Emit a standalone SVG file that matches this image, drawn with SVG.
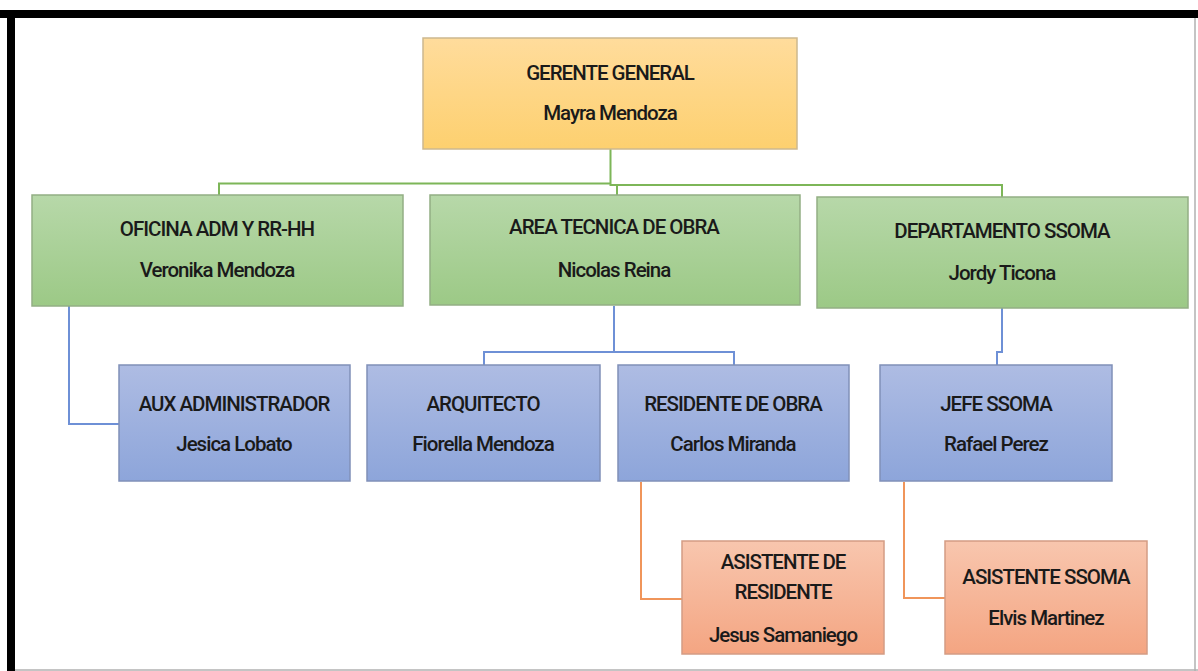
<svg xmlns="http://www.w3.org/2000/svg" width="1198" height="671" viewBox="0 0 1198 671">
<defs>
<linearGradient id="gy" x1="0" y1="0" x2="0" y2="1"><stop offset="0" stop-color="#FFDC9C"/><stop offset="1" stop-color="#FDD06F"/></linearGradient>
<linearGradient id="gg" x1="0" y1="0" x2="0" y2="1"><stop offset="0" stop-color="#B7D8A9"/><stop offset="1" stop-color="#9CC986"/></linearGradient>
<linearGradient id="gb" x1="0" y1="0" x2="0" y2="1"><stop offset="0" stop-color="#AEBCE3"/><stop offset="1" stop-color="#8DA5DA"/></linearGradient>
<linearGradient id="go" x1="0" y1="0" x2="0" y2="1"><stop offset="0" stop-color="#F8C6AE"/><stop offset="1" stop-color="#F4A582"/></linearGradient>
</defs>
<style>
.t{font-family:Roboto,"Open Sans","Liberation Sans",sans-serif;font-weight:500;font-size:20.5px;fill:#1a1a1a;text-anchor:middle;letter-spacing:-1px}
.y{fill:url(#gy);stroke:#CDB88E;stroke-width:1.5}
.g{fill:url(#gg);stroke:#93AE84;stroke-width:1.5}
.b{fill:url(#gb);stroke:#8090B8;stroke-width:1.5}
.o{fill:url(#go);stroke:#D49C84;stroke-width:1.5}
.cg{fill:none;stroke:#7DB658;stroke-width:2}
.cb{fill:none;stroke:#6E90D6;stroke-width:2}
.co{fill:none;stroke:#F0955A;stroke-width:2}
</style>
<rect width="1198" height="671" fill="#fff"/>
<g id="frame">
<rect x="0" y="10" width="1198" height="8" fill="#000"/>
<rect x="7" y="10" width="8" height="661" fill="#000"/>
<line x1="1195" y1="18" x2="1195" y2="671" stroke="#b0b0b0" stroke-width="1.5"/>
<line x1="15" y1="670" x2="1198" y2="670" stroke="#b0b0b0" stroke-width="1.5"/>
</g>
<g id="connectors">
<path class="cg" d="M610.5 149 V183.5 M219 195 V183.5 H610.5 M610.5 183.5 V185 H617 V195 M617 185 H1002 V197"/>
<path class="cb" d="M69 306 V424 H119"/>
<path class="cb" d="M614 306 V352 M484 365 V352 H734 V365"/>
<path class="cb" d="M1002 308 V352 H997 V365"/>
<path class="co" d="M641 482 V599 H682"/>
<path class="co" d="M904 482 V598 H945"/>
</g>
<g id="gerente"><rect class="y" x="423" y="38" width="374" height="111"/><text class="t" x="610" y="80">GERENTE GENERAL</text><text class="t" x="610" y="120">Mayra Mendoza</text></g>
<g id="oficina"><rect class="g" x="32" y="195" width="371" height="111"/><text class="t" x="217" y="236">OFICINA ADM Y RR-HH</text><text class="t" x="217" y="277">Veronika Mendoza</text></g>
<g id="area"><rect class="g" x="430" y="195" width="370" height="110"/><text class="t" x="614" y="234">AREA TECNICA DE OBRA</text><text class="t" x="614" y="277">Nicolas Reina</text></g>
<g id="departamento"><rect class="g" x="817" y="197" width="371" height="111"/><text class="t" x="1002" y="238">DEPARTAMENTO SSOMA</text><text class="t" x="1002" y="280">Jordy Ticona</text></g>
<g id="aux"><rect class="b" x="119" y="365" width="231" height="116"/><text class="t" x="234" y="411">AUX ADMINISTRADOR</text><text class="t" x="234" y="451">Jesica Lobato</text></g>
<g id="arquitecto"><rect class="b" x="367" y="365" width="233" height="116"/><text class="t" x="483" y="411">ARQUITECTO</text><text class="t" x="483" y="451">Fiorella Mendoza</text></g>
<g id="residente"><rect class="b" x="618" y="365" width="231" height="116"/><text class="t" x="733" y="411">RESIDENTE DE OBRA</text><text class="t" x="733" y="451">Carlos Miranda</text></g>
<g id="jefe"><rect class="b" x="880" y="365" width="232" height="116"/><text class="t" x="996" y="411">JEFE SSOMA</text><text class="t" x="996" y="451">Rafael Perez</text></g>
<g id="asistente-residente"><rect class="o" x="682" y="541" width="202" height="113"/><text class="t" x="783" y="569">ASISTENTE DE</text><text class="t" x="783" y="599">RESIDENTE</text><text class="t" x="783" y="642">Jesus Samaniego</text></g>
<g id="asistente-ssoma"><rect class="o" x="945" y="541" width="202" height="113"/><text class="t" x="1046" y="584">ASISTENTE SSOMA</text><text class="t" x="1046" y="625">Elvis Martinez</text></g>
</svg>
